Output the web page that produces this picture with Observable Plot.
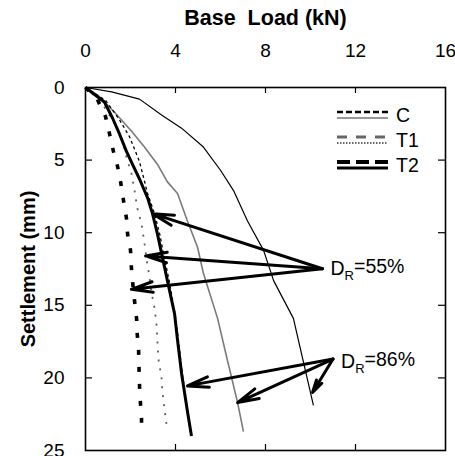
<!DOCTYPE html>
<html><head><meta charset="utf-8">
<script src="https://cdn.jsdelivr.net/npm/d3@7"></script>
<script src="https://cdn.jsdelivr.net/npm/@observablehq/plot@0.6"></script>
<style>
html,body{margin:0;padding:0;background:#fff;}
#chart{position:relative;width:455px;height:456px;overflow:hidden;font-family:"Liberation Sans",Arial,sans-serif;}
#legend{position:absolute;left:0;top:0;pointer-events:none;}
</style></head><body><div id="chart"></div>
<script>
// ---- data (Base Load kN vs Settlement mm) ----
const C55_load   = [0, 0.9, 1.5, 1.96, 2.4, 2.76, 3.07, 3.3, 3.5, 3.72, 3.98, 4.13, 4.3, 4.55, 4.68];
const C55_settle = [0, 0.9, 2.2, 3.4, 5.1, 7.3, 8.7, 10.1, 11.7, 13.3, 15.6, 17.4, 19.7, 22.3, 23.8];

const T155_load   = [0, 0.7, 1.38, 1.64, 1.82, 2.04, 2.18, 2.3, 2.49, 2.62, 2.71, 2.84, 2.93, 3.07, 3.16, 3.2, 3.24, 3.38, 3.42, 3.51, 3.6];
const T155_settle = [0, 1.0, 2.7, 3.6, 4.8, 5.9, 7.1, 8.3, 9.4, 10.7, 11.8, 13.0, 14.1, 15.2, 16.4, 17.6, 18.7, 20.0, 21.0, 22.1, 23.2];

const T255_load   = [0, 0.53, 0.89, 1.07, 1.24, 1.42, 1.56, 1.69, 1.82, 1.87, 2.0, 2.04, 2.1, 2.18, 2.27, 2.3, 2.36, 2.38, 2.4, 2.44, 2.49, 2.49];
const T255_settle = [0, 0.83, 2.0, 3.2, 4.4, 5.4, 6.5, 7.8, 9.0, 10.1, 11.2, 12.4, 13.5, 14.7, 15.9, 17.0, 18.1, 19.4, 20.5, 21.7, 22.8, 23.9];

const C86_load   = [0, 1.16, 2.4, 3.38, 4.27, 5.24, 6.0, 6.58, 7.2, 7.91, 8.36, 9.24, 9.7, 10.13];
const C86_settle = [0, 0.3, 0.8, 1.9, 2.8, 4.1, 5.7, 7.1, 9.2, 11.2, 13.3, 15.9, 19.0, 21.9];

const T186_load   = [0, 0.6, 1.29, 2.04, 2.62, 3.2, 3.64, 4.09, 4.53, 4.98, 5.24, 5.87, 6.31, 6.76, 7.02];
const T186_settle = [0, 0.6, 1.7, 3.0, 4.1, 5.3, 6.5, 7.3, 9.2, 11.0, 12.8, 15.9, 18.8, 21.7, 23.7];

const T286_load   = [0, 0.84, 1.2, 1.51, 1.82, 2.09, 2.4, 2.76, 2.98, 3.2, 3.42, 3.64, 3.96, 4.09, 4.27, 4.53, 4.71];
const T286_settle = [0, 1.0, 2.1, 3.2, 4.4, 5.3, 6.3, 7.6, 8.7, 10.1, 11.7, 13.3, 15.6, 17.4, 19.7, 22.3, 24.0];

// annotation arrows
const dr55_label = "DR=55%";
const dr55_from = [10.53, 12.48];
const dr55_toLoad = [2.98, 2.67, 2.04];
const dr55_toSettle = [8.69, 11.6, 13.9];
const dr86_label = "DR=86%";
const dr86_from = [11.0, 18.7];
const dr86_toLoad = [4.53, 6.76, 10.09];
const dr86_toSettle = [20.55, 21.7, 21.0];

const xTicks = [0, 4, 8, 12, 16];
const yTicks = [0, 5, 10, 15, 20, 25];
const legendLabels = ["C", "T1", "T2"];

// ---- styles ----
const FONT = "'Liberation Sans', Arial, sans-serif";
const lineStyle = {
  C55:  {stroke: "#000", strokeWidth: 1.3, strokeDasharray: "3,3"},
  T155: {stroke: "#5f5f5f", strokeWidth: 1.8, strokeDasharray: "2,7"},
  T255: {stroke: "#000", strokeWidth: 3.6, strokeDasharray: "5,12"},
  C86:  {stroke: "#000", strokeWidth: 1.2},
  T186: {stroke: "#7a7a7a", strokeWidth: 1.6},
  T286: {stroke: "#000", strokeWidth: 3}
};
const seriesData = {
  C55: [C55_load, C55_settle], T155: [T155_load, T155_settle], T255: [T255_load, T255_settle],
  C86: [C86_load, C86_settle], T186: [T186_load, T186_settle], T286: [T286_load, T286_settle]
};
const rows = k => seriesData[k][0].map((v, i) => ({load: v, settle: seriesData[k][1][i]}));

const arrows = [
  ...dr55_toLoad.map((v, i) => ({x1: dr55_from[0], y1: dr55_from[1], x2: v, y2: dr55_toSettle[i]})),
  ...dr86_toLoad.map((v, i) => ({x1: dr86_from[0], y1: dr86_from[1], x2: v, y2: dr86_toSettle[i]}))
];
const labels = [
  {x: dr55_from[0] + 0.36, y: dr55_from[1], t: dr55_label},
  {x: dr86_from[0] + 0.36, y: dr86_from[1] + 0.2, t: dr86_label}
];

const W = 455, H = 456, mL = 85, mR = 10, mT = 87, mB = 6;
const innerH = H - mT - mB, innerW = W - mL - mR;

const marks = [];
for (const k of ["T186", "C86", "T155", "C55", "T255", "T286"]) {
  marks.push(Plot.line(rows(k), {x: "load", y: "settle", ...lineStyle[k], strokeLinecap: "butt"}));
}
marks.push(Plot.arrow(arrows, {x1: "x1", y1: "y1", x2: "x2", y2: "y2", stroke: "#000", strokeWidth: 3, headLength: 11, headAngle: 28, strokeLinejoin: "miter"}));
marks.push(Plot.text(labels, {x: "x", y: "y", text: "t", textAnchor: "start", lineAnchor: "middle", fontSize: 19.5, fill: "#000"}));
// inward ticks
const innerX = xTicks.slice(1, -1), innerY = yTicks.slice(1, -1);
marks.push(Plot.tickX(innerX, {x: d => d, insetBottom: innerH - 6, stroke: "#000", strokeWidth: 1.2}));
marks.push(Plot.tickX(innerX, {x: d => d, insetTop: innerH - 6, stroke: "#000", strokeWidth: 1.2}));
marks.push(Plot.tickY(innerY, {y: d => d, insetRight: innerW - 7, stroke: "#000", strokeWidth: 1.2}));
marks.push(Plot.tickY(innerY, {y: d => d, insetLeft: innerW - 7, stroke: "#000", strokeWidth: 1.2}));
marks.push(Plot.frame({stroke: "#000", strokeWidth: 1.6}));
marks.push(Plot.text(["Base  Load (kN)"], {frameAnchor: "top", dy: -69, text: d => d, textAnchor: "middle", lineAnchor: "middle", fontWeight: "bold", fontSize: 21.5, fill: "#000"}));
marks.push(Plot.text(["Settlement (mm)"], {frameAnchor: "left", dx: -57, rotate: -90, text: d => d, textAnchor: "middle", lineAnchor: "middle", fontWeight: "bold", fontSize: 20, fill: "#000"}));

const chart = Plot.plot({
  width: W, height: H,
  marginLeft: mL, marginRight: mR, marginTop: mT, marginBottom: mB,
  style: {fontFamily: FONT, fontSize: "19px", color: "#000", background: "#fff", overflow: "visible"},
  x: {domain: [0, 16], axis: "top", ticks: xTicks, tickSize: 0, tickPadding: 31, label: null},
  y: {domain: [0, 25], reverse: true, axis: "left", ticks: yTicks, tickSize: 0, tickPadding: 21, label: null},
  marks
});
document.getElementById("chart").appendChild(chart);

// subscript R in D_R labels
d3.select(chart).selectAll("text").each(function() {
  const el = d3.select(this);
  const s = this.textContent;
  if (/^DR=/.test(s) && this.children.length === 0) {
    el.text(null);
    el.append("tspan").text("D");
    el.append("tspan").attr("dy", "0.35em").attr("font-size", "13").text("R");
    el.append("tspan").attr("dy", "-0.35em").text(s.slice(2));
  }
});

// legend overlay
const legendTopStyle = [
  {stroke: "#000", strokeWidth: 2.6, strokeDasharray: "6,3"},
  {stroke: "#666", strokeWidth: 2.8, strokeDasharray: "10,9"},
  {stroke: "#000", strokeWidth: 4, strokeDasharray: "13,6"}
];
const legendBottomStyle = [
  {stroke: "#333", strokeWidth: 1.2},
  {stroke: "#666", strokeWidth: 1.8, strokeDasharray: "1.5,1.5"},
  {stroke: "#000", strokeWidth: 3}
];
const lg = d3.select("#chart").append("svg").attr("id", "legend").attr("width", W).attr("height", H);
legendLabels.forEach((lab, i) => {
  const yc = 115 + i * 25;
  const t = legendTopStyle[i], b = legendBottomStyle[i];
  lg.append("line").attr("x1", 337).attr("x2", 388).attr("y1", yc - 3).attr("y2", yc - 3)
    .attr("stroke", t.stroke).attr("stroke-width", t.strokeWidth).attr("stroke-dasharray", t.strokeDasharray || null);
  lg.append("line").attr("x1", 337).attr("x2", 388).attr("y1", yc + 3).attr("y2", yc + 3)
    .attr("stroke", b.stroke).attr("stroke-width", b.strokeWidth).attr("stroke-dasharray", b.strokeDasharray || null);
  lg.append("text").attr("x", 396).attr("y", yc).attr("dy", "0.35em").attr("font-family", FONT)
    .attr("font-size", 19.5).attr("fill", "#000").text(lab);
});
</script></body></html>
